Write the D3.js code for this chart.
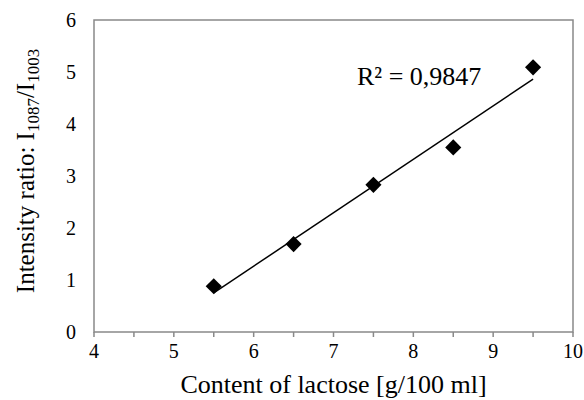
<!DOCTYPE html>
<html>
<head>
<meta charset="utf-8">
<script src="https://cdn.jsdelivr.net/npm/d3@7"></script>
<style>
  body { margin: 0; background: #fff; }
  text { font-family: "Liberation Serif", "Times New Roman", serif; }
</style>
</head>
<body>
<div id="chart-area"></div>
<script>
// data
let lactose = [5.5, 6.5, 7.5, 8.5, 9.5];
let ratio = [0.88, 1.69, 2.83, 3.55, 5.09];
let xTicks = [4, 5, 6, 7, 8, 9, 10];
let xMinor = [4, 4.5, 5, 5.5, 6, 6.5, 7, 7.5, 8, 8.5, 9, 9.5, 10];
let yTicks = [0, 1, 2, 3, 4, 5, 6];
let r2Label = "R² = 0,9847";

let width = 584, height = 400;
let margin = { left: 94, right: 11, top: 20, bottom: 68 };
let serif = "Liberation Serif, Times New Roman, serif";

let svg = d3.select("#chart-area")
    .append("svg")
    .attr("width", width)
    .attr("height", height);

let x = d3.scaleLinear()
    .domain([4, 10])
    .range([margin.left, width - margin.right]);

let y = d3.scaleLinear()
    .domain([0, 6])
    .range([height - margin.bottom, margin.top]);

// plot border
svg.append("rect")
    .attr("x", x(4))
    .attr("y", y(6))
    .attr("width", x(10) - x(4))
    .attr("height", y(0) - y(6))
    .attr("fill", "none")
    .attr("stroke", "#898989")
    .attr("stroke-width", 1.5);

// x ticks
svg.selectAll(".xtick").data(xMinor).enter().append("line")
    .attr("x1", d => x(d))
    .attr("x2", d => x(d))
    .attr("y1", y(0))
    .attr("y2", y(0) + 5)
    .attr("stroke", "#898989")
    .attr("stroke-width", 1.5);

svg.selectAll(".xlab").data(xTicks).enter().append("text")
    .attr("x", d => x(d))
    .attr("y", y(0) + 26)
    .attr("text-anchor", "middle")
    .attr("font-family", serif)
    .attr("font-size", 20)
    .text(d => d);

svg.selectAll(".ylab").data(yTicks).enter().append("text")
    .attr("x", x(4) - 18)
    .attr("y", d => y(d) + 7)
    .attr("text-anchor", "end")
    .attr("font-family", serif)
    .attr("font-size", 20)
    .text(d => d);

// linear trendline
let mx = d3.mean(lactose), my = d3.mean(ratio);
let slope = d3.sum(lactose, (d, i) => (d - mx) * (ratio[i] - my)) /
    d3.sum(lactose, d => (d - mx) * (d - mx));
let icpt = my - slope * mx;
let ends = d3.extent(lactose);

svg.append("line")
    .attr("x1", x(ends[0]))
    .attr("y1", y(icpt + slope * ends[0]))
    .attr("x2", x(ends[1]))
    .attr("y2", y(icpt + slope * ends[1]))
    .attr("stroke", "#000")
    .attr("stroke-width", 1.5);

// diamonds
svg.selectAll(".pt").data(lactose).enter().append("path")
    .attr("d", d3.symbol().type(d3.symbolSquare).size(130))
    .attr("transform", (d, i) => "translate(" + x(d) + "," + y(ratio[i]) + ") rotate(45)")
    .attr("fill", "#000");

svg.append("text")
    .attr("x", 357)
    .attr("y", 85)
    .attr("font-family", serif)
    .attr("font-size", 26)
    .text(r2Label);

svg.append("text")
    .attr("x", (x(4) + x(10)) / 2)
    .attr("y", 393)
    .attr("text-anchor", "middle")
    .attr("font-family", serif)
    .attr("font-size", 26)
    .text("Content of lactose [g/100 ml]");

let yt = svg.append("text")
    .attr("transform", "translate(34,171) rotate(-90)")
    .attr("text-anchor", "middle")
    .attr("font-family", serif)
    .attr("font-size", 25);
yt.append("tspan").text("Intensity ratio: I");
yt.append("tspan").attr("font-size", 17).attr("dy", 5).text("1087");
yt.append("tspan").attr("dy", -5).text("/I");
yt.append("tspan").attr("font-size", 17).attr("dy", 5).text("1003");
</script>
</body>
</html>
